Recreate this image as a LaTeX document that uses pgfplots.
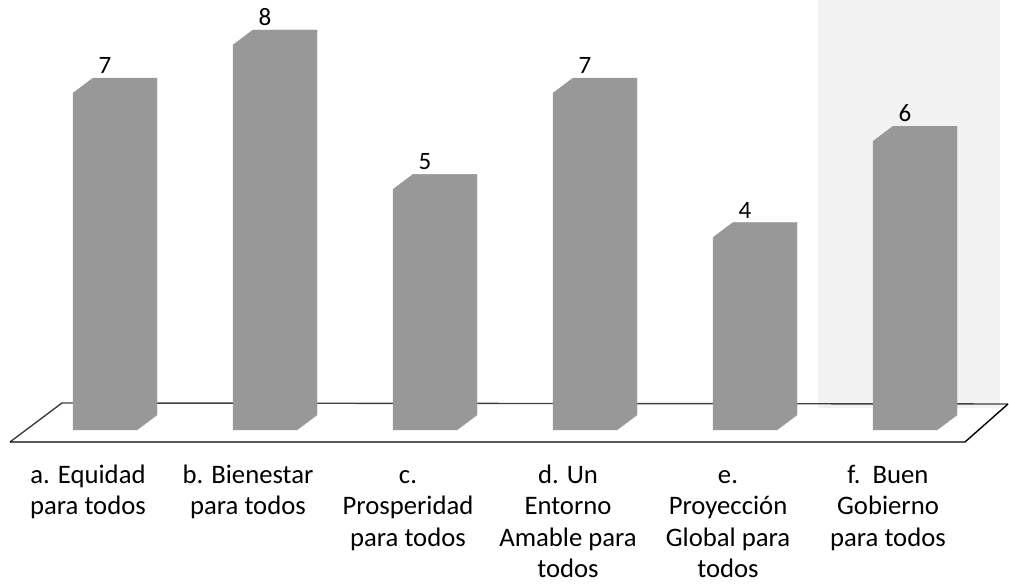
\documentclass[border=0pt]{standalone}
\usepackage{pgfplots}
\pgfplotsset{compat=1.18}
\usepackage{fontspec}
\setmainfont{Carlito}
\definecolor{barfill}{RGB}{152,152,152}
\definecolor{bandgray}{RGB}{242,242,242}
\pgfdeclareplotmark{none3d}{}
\begin{document}
\begin{tikzpicture}
\begin{axis}[
  scale only axis,
  width=1009pt, height=586pt,
  xmin=-0.65625, xmax=5.65,
  ymin=-3.2416, ymax=8.9351,
  axis line style={draw=none},
  tick style={draw=none},
  ytick=\empty,
  /pgf/number format/assume math mode=true,
  xtick={0,1,2,3,4,5},
  xticklabels={{\strut a. Equidad\\para todos},{\strut b. Bienestar\\para todos},{\strut c.\\Prosperidad\\para todos},{\strut d. Un\\Entorno\\Amable para\\todos},{\strut e.\\Proyección\\Global para\\todos},{\strut f.\ \ Buen\\Gobierno\\para todos}},
  xticklabel style={anchor=north, yshift=125pt, xshift=-17pt, align=center, inner sep=0pt, font=\fontsize{26.7}{31.5}\selectfont},
  clip=false,
]
\path (rel axis cs:0,0) (rel axis cs:1,1);
% light scan band on the right
\fill[bandgray] (axis cs:4.456,8.935) rectangle (axis cs:5.594,0.45);
% floor
\draw[black!75, line width=1.4pt] (axis cs:-0.59375,-0.2494) -- (axis cs:-0.26875,0.5610) -- (axis cs:5.64375,0.5403);
\draw[black, line width=1.4pt] (axis cs:-0.59375,-0.2494) -- (axis cs:5.375,-0.2494) -- (axis cs:5.64375,0.5403);
% 3D bars
\addplot[scatter, only marks, mark=none3d,
  visualization depends on={rawy \as \val},
  scatter/@pre marker code/.code={%
    \pgfmathsetmacro\hh{-\val*48.125}%
    \pgfmathsetmacro\hb{\hh+15}%
    \fill[barfill] (-32pt,\hh pt) -- (-32pt,0pt) -- (-12pt,15pt) -- (52pt,15pt) -- (52pt,\hb pt) -- (32pt,\hh pt) -- cycle;
  },
  scatter/@post marker code/.code={},
] coordinates {(0,7) (1,8) (2,5) (3,7) (4,4) (5,6)};
% value labels
\addplot[draw=none, mark=none, nodes near coords,
  every node near coord/.append style={yshift=19pt, inner sep=0pt, text=black, font=\fontsize{25}{29}\selectfont}]
  coordinates {(0,7) (1,8) (2,5) (3,7) (4,4) (5,6)};
\end{axis}
\end{tikzpicture}
\end{document}
